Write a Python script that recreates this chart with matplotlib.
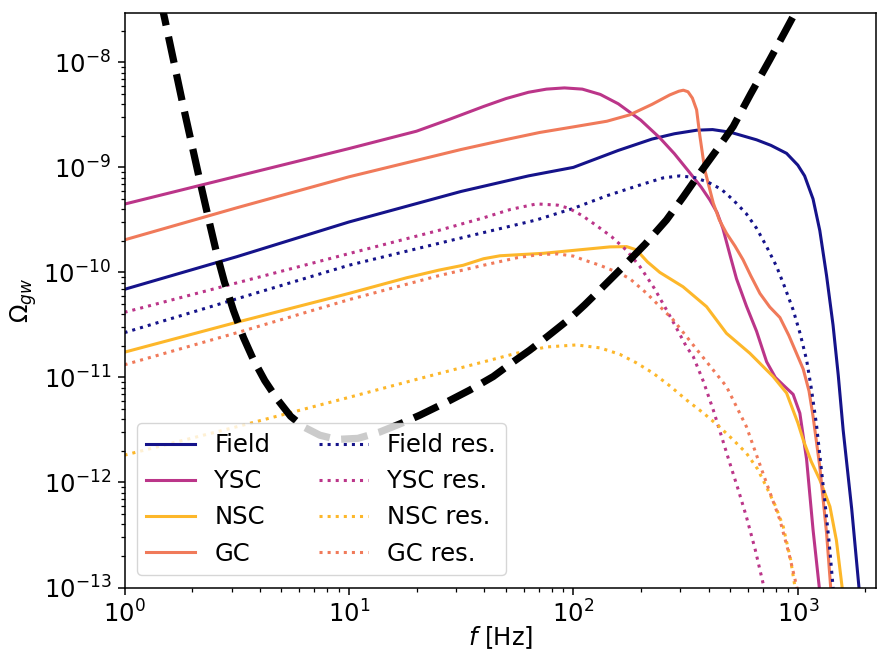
import matplotlib
matplotlib.use("Agg")
import matplotlib.pyplot as plt

# ---------------- data ----------------
field_f = [1, 3.16, 10, 31.6, 63.1, 100, 158.5, 224, 282, 355, 417, 501, 655, 759, 891, 1000, 1072,
           1169, 1253, 1343, 1435, 1514, 1592, 1738, 1871, 1950]
field_y = [6.9e-11, 1.41e-10, 3.02e-10, 5.9e-10, 8.3e-10, 1.0e-9, 1.45e-9, 1.86e-9, 2.09e-9, 2.26e-9, 2.29e-9,
           2.16e-9, 1.83e-9, 1.62e-9, 1.36e-9, 1.05e-9, 8.3e-10, 5.0e-10, 2.5e-10, 9.3e-11, 3.16e-11, 1.05e-11,
           3.16e-12, 5.6e-13, 1.02e-13, 4.5e-14]

ysc_f = [1, 3.16, 10, 20, 28.2, 39.8, 50.1, 63.1, 75.9, 91.2, 109.6, 131.8, 158.5, 199.5, 242.7, 281.8, 330,
         371.5, 405.5, 436.5, 463.4, 501, 533, 590, 655, 726, 794, 859, 953, 1021, 1094, 1169, 1245, 1288]
ysc_y = [4.47e-10, 8.22e-10, 1.51e-9, 2.21e-9, 2.88e-9, 3.80e-9, 4.52e-9, 5.19e-9, 5.56e-9, 5.71e-9, 5.56e-9,
         4.95e-9, 4.03e-9, 2.82e-9, 1.91e-9, 1.35e-9, 8.9e-10, 6.46e-10, 4.9e-10, 3.72e-10, 2.63e-10, 1.41e-10,
         8.7e-11, 4.79e-11, 2.75e-11, 1.41e-11, 1.0e-11, 8.5e-12, 6.9e-12, 4.57e-12, 1.66e-12, 3.55e-13,
         1.02e-13, 5e-14]

nsc_f = [1, 3.16, 10, 18.1, 25.1, 32.3, 39.8, 47.1, 73.5, 100, 145.6, 172.6, 191, 213.8, 242.7, 308, 392,
         481, 611, 776, 891, 1000, 1057, 1148, 1253, 1390, 1486, 1574, 1622]
nsc_y = [1.74e-11, 3.35e-11, 6.31e-11, 8.9e-11, 1.05e-10, 1.17e-10, 1.35e-10, 1.44e-10, 1.52e-10, 1.62e-10,
         1.75e-10, 1.76e-10, 1.64e-10, 1.26e-10, 1.0e-10, 7.3e-11, 4.72e-11, 2.63e-11, 1.7e-11, 1.02e-11,
         7.1e-12, 3.7e-12, 2.54e-12, 1.58e-12, 1.06e-12, 5.9e-13, 2.8e-13, 1.02e-13, 5e-14]

gc_f = [1, 3.16, 10, 31.6, 50.1, 70.8, 100, 141, 178, 224, 269, 295, 309, 324, 339, 354, 366, 385, 420, 447,
        481, 525, 570, 617, 678, 750, 832, 912, 986, 1057, 1122, 1169, 1253, 1343, 1400, 1445]
gc_y = [2.04e-10, 4.12e-10, 8.13e-10, 1.48e-9, 1.84e-9, 2.15e-9, 2.43e-9, 2.75e-9, 3.16e-9, 3.98e-9, 4.9e-9,
        5.31e-9, 5.43e-9, 5.25e-9, 4.57e-9, 3.53e-9, 2.0e-9, 9.46e-10, 4.57e-10, 3.16e-10, 2.36e-10, 1.78e-10,
        1.32e-10, 9.3e-11, 6.3e-11, 4.68e-11, 3.72e-11, 2.51e-11, 1.7e-11, 1.2e-11, 7.4e-12, 4.27e-12,
        1.41e-12, 3.3e-13, 1.02e-13, 5e-14]

field_res_f = [1, 3.16, 10, 29.1, 68.5, 100, 141, 200, 251, 298, 347, 398, 457, 515, 589, 655, 724, 804, 871,
               953, 1023, 1094, 1148, 1211, 1259, 1318, 1380, 1435, 1479]
field_res_y = [2.67e-11, 5.6e-11, 1.17e-10, 2.04e-10, 3.16e-10, 4.07e-10, 5.37e-10, 6.84e-10, 7.94e-10, 8.3e-10,
               8.0e-10, 7.24e-10, 6.17e-10, 4.9e-10, 3.63e-10, 2.63e-10, 1.78e-10, 1.14e-10, 7.4e-11, 4.4e-11,
               2.63e-11, 1.47e-11, 7.9e-12, 3.55e-12, 1.66e-12, 6.8e-13, 2.63e-13, 1.02e-13, 5e-14]

ysc_res_f = [1, 3.16, 10, 25.1, 39.8, 52.5, 68.5, 85.1, 95.5, 109.6, 126.8, 147.9, 172.6, 197.7, 229, 260, 288,
             319, 342, 380, 420, 457, 498, 543, 590, 646, 697, 724]
ysc_res_y = [4.17e-11, 7.94e-11, 1.51e-10, 2.51e-10, 3.31e-10, 3.98e-10, 4.49e-10, 4.37e-10, 4.08e-10, 3.47e-10,
             2.79e-10, 2.19e-10, 1.62e-10, 1.14e-10, 7.1e-11, 4.4e-11, 2.95e-11, 1.96e-11, 1.58e-11, 9.1e-12,
             4.9e-12, 2.75e-12, 1.52e-12, 8.5e-13, 4.72e-13, 2.29e-13, 1.14e-13, 7.9e-14]

nsc_res_f = [1, 3.16, 10, 20.7, 35.5, 55.8, 75.9, 103.3, 131.8, 161, 190.5, 226.5, 269.2, 319.2, 380.2, 446.7,
             512.9, 590.2, 660.7, 724.4, 794.3, 861, 929, 970.5, 1000]
nsc_res_y = [1.82e-12, 3.39e-12, 6.46e-12, 9.77e-12, 1.32e-11, 1.7e-11, 1.95e-11, 2.04e-11, 1.91e-11, 1.66e-11,
             1.38e-11, 1.1e-11, 8.3e-12, 6.1e-12, 4.57e-12, 3.4e-12, 2.57e-12, 1.9e-12, 1.35e-12, 9.1e-13,
             6.0e-13, 3.8e-13, 1.83e-13, 1.02e-13, 7.1e-14]

gc_res_f = [1, 3.16, 10, 25.1, 39.8, 56.2, 70.8, 85.1, 100, 110.7, 131.2, 161, 178.6, 211.8, 278.6, 365.6,
            480.8, 590.2, 699.8, 831.8, 912, 988.6, 1023]
gc_res_y = [1.32e-11, 2.66e-11, 5.5e-11, 9.3e-11, 1.17e-10, 1.38e-10, 1.48e-10, 1.5e-10, 1.43e-10, 1.32e-10,
            1.17e-10, 9.8e-11, 8.7e-11, 6.34e-11, 3.53e-11, 1.7e-11, 8.2e-12, 3.4e-12, 1.22e-12, 4.4e-13,
            2.12e-13, 1.02e-13, 7.1e-14]

sens_f = [1.445, 1.514, 1.820, 2.168, 2.399, 2.576, 2.786, 3.055, 3.388, 3.750, 4.217, 4.764, 5.495, 6.266,
          7.413, 8.810, 10.96, 13.71, 16.98, 20.70, 26.92, 34.59, 43.95, 52.48, 63.97, 77.62, 96.38, 112.2,
          131.2, 166.7, 208.9, 260.0, 309.0, 365.6, 436.5, 515.2, 616.6, 749.9, 871.0, 977.2, 1047]
sens_y = [3.98e-8, 2.54e-8, 3.98e-9, 7.41e-10, 2.88e-10, 1.51e-10, 8.13e-11, 4.37e-11, 2.4e-11, 1.48e-11,
          9.33e-12, 6.31e-12, 4.27e-12, 3.39e-12, 2.82e-12, 2.57e-12, 2.63e-12, 3.02e-12, 3.63e-12, 4.37e-12,
          5.75e-12, 7.59e-12, 1.02e-11, 1.35e-11, 1.82e-11, 2.51e-11, 3.63e-11, 4.9e-11, 6.81e-11, 1.135e-10,
          1.86e-10, 3.16e-10, 5.25e-10, 8.79e-10, 1.48e-9, 2.45e-9, 5.01e-9, 1.06e-8, 1.91e-8, 3.02e-8, 3.98e-8]

labels = ["Field", "YSC", "NSC", "GC"]
colors = ["#15138a", "#bb3589", "#fdb72a", "#f07a5a"]

# ---------------- plot ----------------
plt.rcParams.update({
    "font.size": 17.5,
    "xtick.major.size": 4.8, "ytick.major.size": 4.8,
    "xtick.minor.size": 2.7, "ytick.minor.size": 2.7,
    "xtick.major.width": 1.1, "ytick.major.width": 1.1,
    "xtick.minor.width": 0.9, "ytick.minor.width": 0.9,
    "xtick.major.pad": 4.8, "ytick.major.pad": 4.8,
    "axes.linewidth": 1.1,
})
fig = plt.figure(figsize=(8.77, 6.55), dpi=100)
ax = fig.add_axes([124.5 / 877, (655 - 587.5) / 655, (876 - 124.5) / 877, (587.5 - 13) / 655])

solid = [(field_f, field_y), (ysc_f, ysc_y), (nsc_f, nsc_y), (gc_f, gc_y)]
dotted = [(field_res_f, field_res_y), (ysc_res_f, ysc_res_y), (nsc_res_f, nsc_res_y), (gc_res_f, gc_res_y)]

lw = 2.2
for (fx, fy), lab, c in zip(solid, labels, colors):
    ax.plot(fx, fy, color=c, lw=lw, label=lab)
for (fx, fy), lab, c in zip(dotted, labels, colors):
    ax.plot(fx, fy, color=c, lw=lw, ls=":", label=lab + " res.")

ax.plot(sens_f, sens_y, color="black", lw=5.2, ls="--")

ax.set_xscale("log")
ax.set_yscale("log")
ax.set_xlim(1, 2230)
ax.set_ylim(1e-13, 2.95e-8)
ax.set_xlabel(r"$f$ [Hz]", labelpad=-3)
ax.set_ylabel(r"$\Omega_{gw}$", labelpad=3)

ax.legend(loc="lower left", ncol=2, fontsize=17.5)

fig.savefig("out.png", dpi=100)
